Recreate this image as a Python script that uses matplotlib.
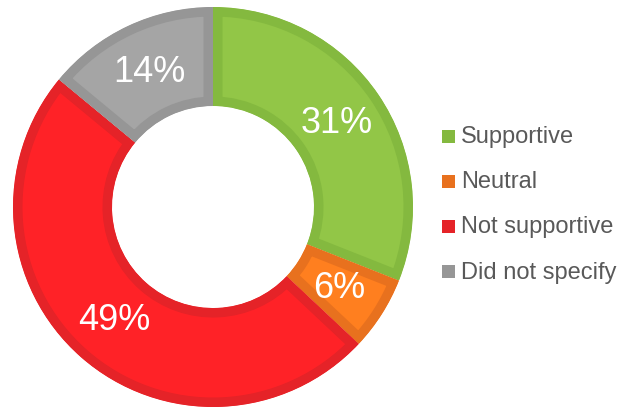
import matplotlib
matplotlib.use("Agg")
import matplotlib.pyplot as plt
from matplotlib.patches import Rectangle

plt.rcParams["font.family"] = ["Liberation Sans", "DejaVu Sans"]

# survey answers, percent
categories = ["Supportive", "Neutral", "Not supportive", "Did not specify"]
shares = [31, 6, 49, 14]

fill_colors = ["#92C647", "#FF7F1F", "#FF2227", "#A5A5A5"]
edge_colors = ["#84B93F", "#E8711E", "#E52328", "#969696"]

W, H = 623, 410
fig = plt.figure(figsize=(W / 100, H / 100), dpi=100)
ax = fig.add_axes([0, 0, 1, 1])

# donut in pixel units, y measured from the bottom
cx, cy, radius = 213, H - 208, 200
wedges, texts, autotexts = ax.pie(
    shares,
    colors=fill_colors,
    startangle=90,
    counterclock=False,
    radius=radius,
    center=(cx, cy),
    wedgeprops=dict(width=99),
    autopct=lambda p: "{:.0f}%".format(p),
    pctdistance=0.75,
    textprops=dict(color="white", fontsize=26),
    frame=True,
)

# darker band drawn on the inside of every wedge
for w, c in zip(wedges, edge_colors):
    w.set_edgecolor(c)
    w.set_linewidth(13.7)
    w.set_clip_path(w)
    w.set_clip_on(True)

# legend drawn by hand on the right
row_y = [137, 182, 227, 272]
for name, c, y in zip(categories, edge_colors, row_y):
    ax.add_patch(Rectangle((442, H - y - 6.5), 13, 13, color=c, lw=0))
    ax.text(461, H - y - 6.5, name, fontsize=17, color="#595959", va="baseline")

ax.set_xlim(0, W)
ax.set_ylim(0, H)
ax.set_aspect("equal")
ax.axis("off")

fig.savefig("out.png", dpi=100)
